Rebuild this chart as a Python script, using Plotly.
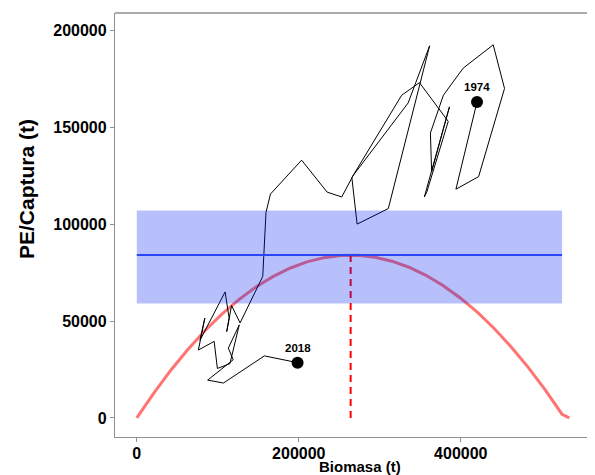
import plotly.graph_objects as go

# ---- data ----
path_biomass = [420000, 394000, 422000, 454000, 440000, 403000, 378500, 362500, 364000, 386000,
                355000, 358000, 384500, 349000, 327000, 265500, 272000, 310500, 361500, 335000, 267000,
                253000, 235000, 203500, 165000, 159500, 157000, 155500, 127500, 117000, 111000,
                114000, 109000, 78000, 84000, 76000, 95500, 99500, 115000, 126500, 113000,
                119000, 87500, 107000, 157500, 198500]
path_capture = [163000, 118000, 124500, 170000, 192500, 180500, 166500, 147000, 127000, 160500,
                114000, 116500, 153000, 173000, 166500, 124000, 100000, 108000, 192000, 162500, 125000,
                114000, 116500, 133000, 115500, 106000, 83500, 73000, 49000, 58000, 44500,
                51500, 65000, 40000, 51500, 35000, 39500, 25500, 28000, 48000, 36000,
                30000, 19500, 18000, 32000, 28500]

curve_biomass = [0, 21000, 42000, 63000, 84000, 105000, 126000, 147000, 168000, 189000,
                 210000, 231000, 252000, 273000, 294000, 315000, 336000, 357000, 378000, 399000,
                 420000, 441000, 462000, 483000, 504000, 525000, 534000]
curve_prod = [0, 12832, 24601, 35307, 44950, 53530, 61048, 67502, 72893, 77221,
              80486, 82688, 83826, 83902, 82915, 80865, 77752, 73576, 68337, 62035,
              54670, 46241, 36750, 26196, 14579, 1898, 0]

msy = 84000
bmsy = 264000
band_low = 59000
band_high = 107000
band_biomass = [0, 525000]

label_years = ["1974", "2018"]
label_biomass = [path_biomass[0], path_biomass[-1]]
label_capture = [path_capture[0], path_capture[-1]]

x_ticks = [0, 200000, 400000]
y_ticks = [0, 50000, 100000, 150000, 200000]

FONT = "Liberation Sans, Arial, sans-serif"

# page body has an 8px margin; figure geometry compensates for it
FIG_W, FIG_H = 587, 467
ML, MT, MB = 107, 5, 38
PLOT_W = FIG_W - ML
PLOT_H = FIG_H - MT - MB

fig = go.Figure()

# production curve
fig.add_trace(go.Scatter(x=curve_biomass, y=curve_prod, mode="lines",
                         line=dict(color="rgba(255,0,0,0.55)", width=3),
                         hoverinfo="skip", showlegend=False))
# Bmsy dashed
fig.add_trace(go.Scatter(x=[bmsy, bmsy], y=[0, msy], mode="lines",
                         line=dict(color="red", width=2, dash="7px,5px"),
                         showlegend=False))
# trajectory
fig.add_trace(go.Scatter(x=path_biomass, y=path_capture, mode="lines",
                         line=dict(color="black", width=1), showlegend=False))
# band
fig.add_trace(go.Scatter(x=[band_biomass[0], band_biomass[1], band_biomass[1], band_biomass[0], band_biomass[0]],
                         y=[band_low, band_low, band_high, band_high, band_low],
                         mode="lines", fill="toself", fillcolor="rgba(0,30,240,0.28)",
                         line=dict(width=0), showlegend=False))
# MSY line
fig.add_trace(go.Scatter(x=band_biomass, y=[msy, msy], mode="lines",
                         line=dict(color="rgb(40,70,245)", width=2), showlegend=False))
# end points
fig.add_trace(go.Scatter(x=label_biomass, y=label_capture, mode="markers",
                         marker=dict(color="black", size=12), showlegend=False))

for yr, bx, cy in zip(label_years, label_biomass, label_capture):
    fig.add_annotation(x=bx, y=cy, text=yr, showarrow=False, yshift=15,
                       font=dict(family=FONT, size=11.5, color="black", weight="bold"))

# axis titles as annotations (page px -> paper)
fig.add_annotation(xref="paper", yref="paper", x=(360 - 115) / PLOT_W, y=-(467 - 437) / PLOT_H,
                   text="Biomasa (t)", showarrow=False, yanchor="middle", xanchor="center",
                   font=dict(family=FONT, size=15, color="black", weight="bold"))
fig.add_annotation(xref="paper", yref="paper", x=-(115 - 26) / PLOT_W, y=(437 - 189) / PLOT_H,
                   text="PE/Captura (t)", showarrow=False, textangle=-90,
                   xanchor="center", yanchor="middle",
                   font=dict(family=FONT, size=21, color="black", weight="bold"))

# top border
fig.add_shape(type="line", xref="paper", yref="paper", x0=0, x1=1, y0=1, y1=1,
              line=dict(color="#8f8f8f", width=1.3))

fig.update_layout(
    width=FIG_W, height=FIG_H,
    margin=dict(l=ML, r=0, t=MT, b=MB),
    plot_bgcolor="white", paper_bgcolor="white",
    xaxis=dict(range=[-26914, 565695], tickvals=x_ticks, ticktext=[str(v) for v in x_ticks],
               automargin=False, ticklabelstandoff=-2,
               showgrid=False, zeroline=False, showline=True, linecolor="#8f8f8f", linewidth=1.3,
               ticks="outside", ticklen=4, tickcolor="#8f8f8f", tickwidth=1.3,
               tickfont=dict(family=FONT, size=16, color="black", weight="bold")),
    yaxis=dict(range=[-9856, 208928], tickvals=y_ticks, ticktext=[str(v) for v in y_ticks],
               automargin=False,
               showgrid=False, zeroline=False, showline=True, linecolor="#8f8f8f", linewidth=1.3,
               ticks="outside", ticklen=4, tickcolor="#8f8f8f", tickwidth=1.3,
               tickfont=dict(family=FONT, size=16, color="black", weight="bold")),
)

fig.write_html("out.html")
